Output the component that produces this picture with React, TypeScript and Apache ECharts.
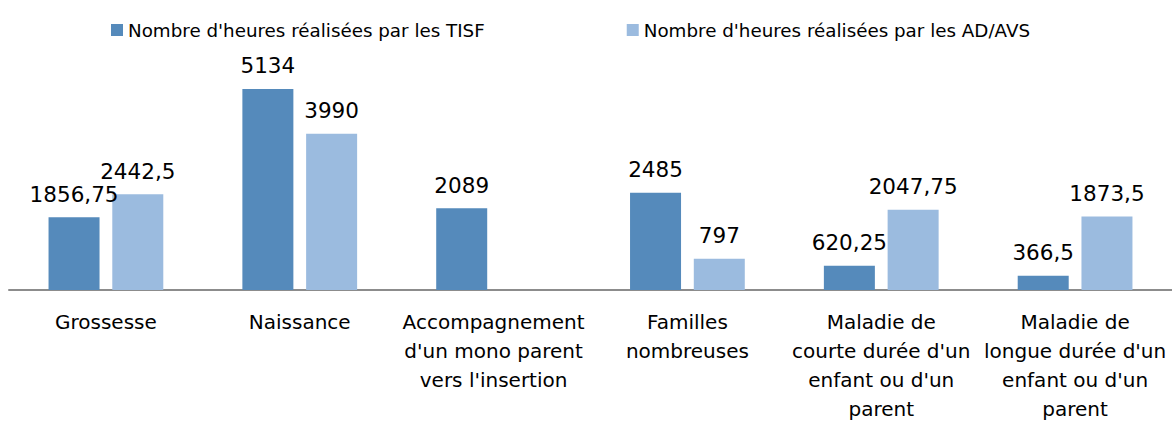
import React, { useEffect, useRef } from "react";
import * as echarts from "echarts";

const categories = [
  "Grossesse",
  "Naissance",
  "Accompagnement\nd'un mono parent\nvers l'insertion",
  "Familles\nnombreuses",
  "Maladie de\ncourte durée d'un\nenfant ou d'un\nparent",
  "Maladie de\nlongue durée d'un\nenfant ou d'un\nparent",
];
const seriesNames = [
  "Nombre d'heures réalisées par les TISF",
  "Nombre d'heures réalisées par les AD/AVS",
];
const tisf = [1856.75, 5134, 2089, 2485, 620.25, 366.5];
const adavs: (number | null)[] = [2442.5, 3990, null, 797, 2047.75, 1873.5];

const FONT = "DejaVu Sans";

export default function App() {
  const ref = useRef<HTMLDivElement>(null);
  useEffect(() => {
    if (!ref.current) return;
    const chart = echarts.init(ref.current, undefined, { renderer: "svg" });
    const fmt = (p: any) =>
      p.value == null ? "" : String(p.value).replace(".", ",");
    const label = {
      show: true,
      position: "top",
      distance: 12,
      fontFamily: FONT,
      fontSize: 21.5,
      color: "#000",
      formatter: fmt,
    };
    chart.setOption({
      animation: false,
      textStyle: { fontFamily: FONT },
      legend: {
        top: 16,
        left: 106,
        itemWidth: 12,
        itemHeight: 12,
        itemGap: 142,
        icon: "rect",
        textStyle: { fontFamily: FONT, fontSize: 18.3, color: "#000" },
        data: seriesNames,
      },
      grid: { left: 9, width: 1163, top: 55, height: 241, containLabel: false },
      xAxis: {
        type: "category",
        data: categories,
        axisTick: { show: false },
        axisLine: { lineStyle: { color: "#8c8c8c", width: 2 } },
        axisLabel: {
          interval: 0,
          margin: 17,
          fontFamily: FONT,
          fontSize: 20,
          lineHeight: 29,
          color: "#000",
        },
      },
      yAxis: {
        type: "value",
        min: 0,
        max: 6000,
        show: false,
        splitLine: { show: false },
      },
      series: [
        {
          name: seriesNames[0],
          type: "bar",
          data: tisf,
          barWidth: 51,
          barGap: "25%",
          itemStyle: { color: "#558ABB" },
          label,
        },
        {
          name: seriesNames[1],
          type: "bar",
          data: adavs,
          barWidth: 51,
          barGap: "25%",
          itemStyle: { color: "#9BBBDF" },
          label,
        },
      ],
    });
    return () => chart.dispose();
  }, []);
  return (
    <div
      ref={ref}
      style={{ width: 1172, height: 423, position: "absolute", left: 0, top: 0 }}
    />
  );
}
